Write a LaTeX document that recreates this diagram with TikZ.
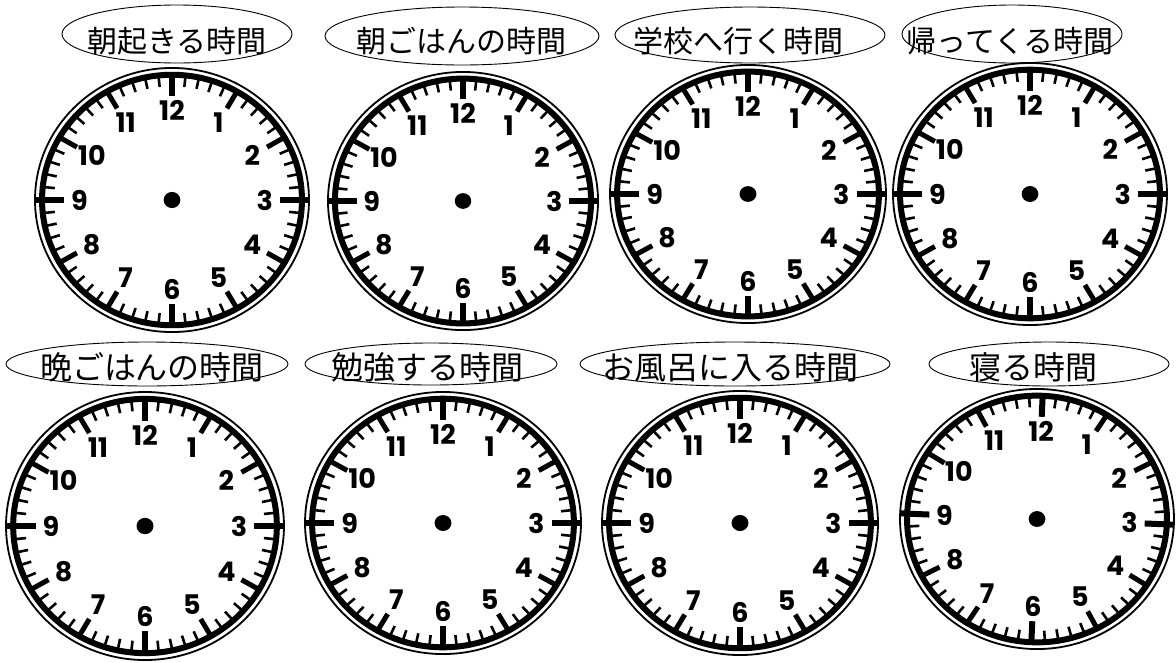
\documentclass[tikz,border=0pt]{standalone}
\usepackage{fontspec}
\newfontfamily\jpfont{Noto Sans CJK JP}
\newfontfamily\clocknumfont{Poppins}
\tikzset{
  mintick/.style={line width=2.6pt},
  hourtick/.style={line width=5pt},
  qtick/.style={line width=6pt},
  numstyle/.style={inner sep=0pt, font=\clocknumfont\bfseries\fontsize{27}{27}\selectfont},
  labelell/.style={line width=0.9pt},
  labeltext/.style={inner sep=0pt, font=\jpfont\fontsize{30}{30}\selectfont},
  labeltextb/.style={inner sep=0pt, font=\jpfont\fontsize{32}{32}\selectfont}
}
\newcommand\myclock[6]{%
\begin{scope}[shift={(#2,#3)}, xscale=#4/137, yscale=#5/137, rotate=#6]
  \draw[line width=1.8pt] (0,0) circle (136);
  \draw[line width=6pt] (0,0) circle (129);
  \foreach \m in {0,...,59}{%
    \pgfmathtruncatemacro\mrem{mod(\m,5)}%
    \ifnum\mrem=0\relax\else
      \draw[mintick] ({127*sin(6*\m)},{-127*cos(6*\m)}) -- ({117*sin(6*\m)},{-117*cos(6*\m)});
    \fi
  }
  \foreach \h in {1,2,4,5,7,8,10,11}{%
    \draw[hourtick] ({127*sin(30*\h)},{-127*cos(30*\h)}) -- ({109*sin(30*\h)},{-109*cos(30*\h)});
  }
  \draw[qtick] (0,-127) -- (0,-107);
  \draw[qtick] (0,127) -- (0,107);
  \draw[qtick] (136,0) -- (107,0);
  \draw[qtick] (-136,0) -- (-107,0);
  \fill (0,0) circle (8.3);
  \foreach \h in {1,...,12}{%
    \node[numstyle] (#1n\h) at ({92*sin(30*\h)},{-92*cos(30*\h)}) {\h};
  }
\end{scope}}
\begin{document}
\begin{tikzpicture}[x={(1pt,0)}, y={(0,-1pt)}]
\fill[white] (0,0) rectangle (1176,662);
\useasboundingbox (0,0) rectangle (1176,662);
% clocks
\myclock{c1}{172}{200}{138}{133}{0}
\myclock{c2}{463}{201}{136}{130}{0}
\myclock{c3}{748}{194}{139}{130}{0}
\myclock{c4}{1030}{194}{138}{132}{0}
\myclock{c5}{145}{526}{140}{135}{0}
\myclock{c6}{443}{523}{139}{132}{0}
\myclock{c7}{740}{523}{139}{133}{0}
\myclock{c8}{1037}{519}{138}{131}{-2.5}
% labels top
\draw[labelell] (177,34) ellipse [x radius=115, y radius=29];
\node[labeltext] (t1) at (177,41) {朝起きる時間};
\draw[labelell] (462,36) ellipse [x radius=137, y radius=29];
\node[labeltext] (t2) at (461,41) {朝ごはんの時間};
\draw[labelell] (750,35) ellipse [x radius=135, y radius=28];
\node[labeltext] (t3) at (738,41) {学校へ行く時間};
\draw[labelell] (1012,34) ellipse [x radius=110, y radius=29];
\node[labeltext] (t4) at (1010,41) {帰ってくる時間};
% labels bottom
\draw[labelell] (147,364) ellipse [x radius=141, y radius=22];
\node[labeltextb] (t5) at (152,367) {晩ごはんの時間};
\draw[labelell] (431,364) ellipse [x radius=126, y radius=21];
\node[labeltextb] (t6) at (427,367) {勉強する時間};
\draw[labelell] (735,364) ellipse [x radius=155, y radius=22];
\node[labeltextb] (t7) at (730,367) {お風呂に入る時間};
\draw[labelell] (1049,364) ellipse [x radius=120, y radius=22];
\node[labeltextb] (t8) at (1033,367) {寝る時間};
\end{tikzpicture}
\end{document}
